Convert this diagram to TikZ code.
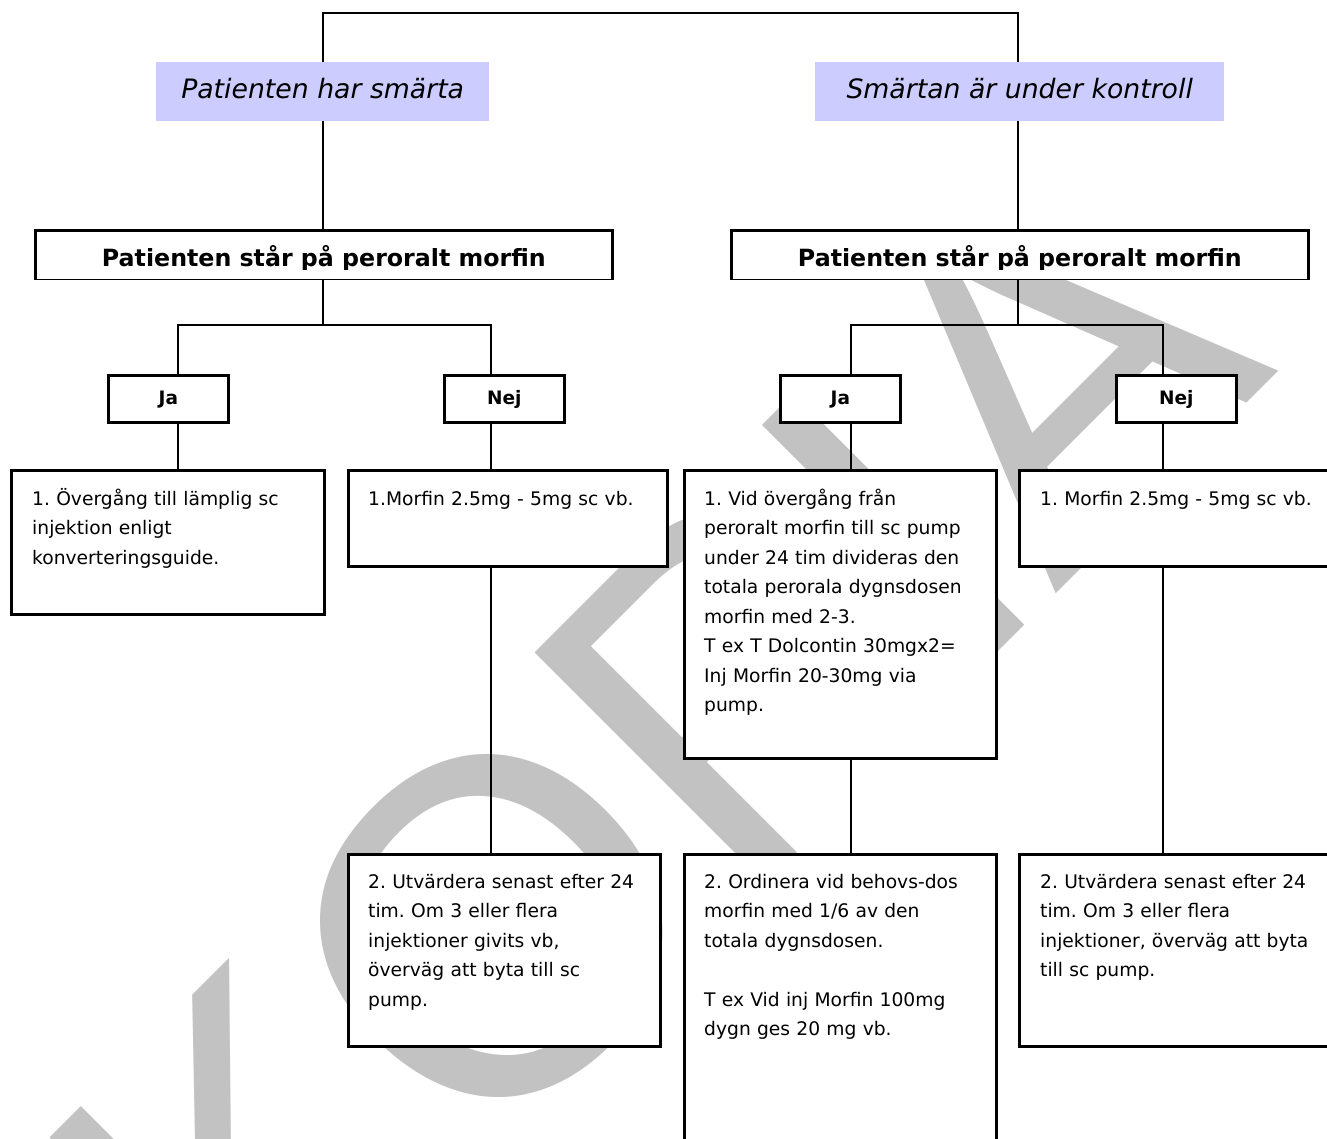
\documentclass[tikz,border=0pt]{standalone}
\usepackage{fontspec}
\setmainfont{DejaVu Sans}[ItalicFont={DejaVu Sans Oblique},BoldFont={DejaVu Sans Bold},BoldItalicFont={DejaVu Sans Bold Oblique}]
\newfontfamily\wmfont{Liberation Sans}
\usetikzlibrary{calc}
\definecolor{hdrfill}{RGB}{204,204,255}
\definecolor{wmgray}{RGB}{194,194,194}
\newcommand{\firstln}{\rule{0pt}{18pt}}
\frenchspacing
\begin{document}
\frenchspacing
\begin{tikzpicture}[x=1pt,y=-1pt,
  conn/.style={line width=2.6pt},
  boxst/.style={draw, line width=2.7pt, fill=white, rectangle, inner sep=0pt, anchor=north west},
  bodytxt/.style={anchor=north west, inner sep=0pt, text width=300pt, align=left, font=\fontsize{18.7}{29.5}\selectfont\frenchspacing},
  hdrst/.style={fill=hdrfill, rectangle, inner sep=0pt, anchor=north west, text height=36pt, text depth=23pt, font=\fontsize{26.7}{30}\selectfont\itshape},
  titlest/.style={boxst, minimum width=577pt, text height=35.5pt, text depth=12.5pt, font=\fontsize{23.7}{28}\selectfont\bfseries},
  jnst/.style={boxst, minimum width=120pt, text height=29pt, text depth=18pt, font=\fontsize{18.5}{22}\selectfont\bfseries},
  wmst/.style={anchor=base west, inner sep=0pt, rotate=45, text=wmgray, font=\wmfont\fontsize{475}{475}\selectfont}
]
\useasboundingbox (0,0) rectangle (1327,1139);
\clip (0,0) rectangle (1327,1139);
\fill[white] (0,0) rectangle (1327,1139);

% watermark
\node[wmst] (wmk) at (253,1397) {KOPIA};

% headers
\node[hdrst, minimum width=333pt] (h1) at (156,62) {Patienten har smärta};
\node[hdrst, minimum width=409pt] (h2) at (815,62) {Smärtan är under kontroll};

% connectors
\coordinate (topbar) at (0,13);
\coordinate (lja) at (178,325);
\coordinate (lnej) at (491,325);
\coordinate (rja) at (851,325);
\coordinate (rnej) at (1163,325);
\coordinate (lmid) at (323,0);
\coordinate (rmid) at (1018,0);

\draw[conn] (lmid |- h1.north) -- (lmid |- topbar) -- (rmid |- topbar) -- (rmid |- h2.north);
\draw[conn] (lmid |- h1.south) -- (lmid |- 0,230);
\draw[conn] (rmid |- h2.south) -- (rmid |- 0,230);
\draw[conn] (lmid |- 0,277) -- (lmid |- lja);
\draw[conn] (rmid |- 0,277) -- (rmid |- rja);
\draw[conn] (lja |- 0,374) -- (lja) -- (lnej) -- (lnej |- 0,374);
\draw[conn] (rja |- 0,374) -- (rja) -- (rnej) -- (rnej |- 0,374);
\draw[conn] (lja |- 0,421) -- (lja |- 0,469);
\draw[conn] (lnej |- 0,421) -- (lnej |- 0,469);
\draw[conn] (lnej |- 0,565) -- (lnej |- 0,853);
\draw[conn] (rja |- 0,421) -- (rja |- 0,469);
\draw[conn] (rja |- 0,757) -- (rja |- 0,853);
\draw[conn] (rnej |- 0,421) -- (rnej |- 0,469);
\draw[conn] (rnej |- 0,565) -- (rnej |- 0,853);

% title boxes
\node[titlest] (t1) at (34,229.5) {Patienten står på peroralt morfin};
\node[titlest] (t2) at (730,229.5) {Patienten står på peroralt morfin};
\fill[white] ($(t1.south west)+(3,-10.3)$) rectangle ($(t1.south east)+(-3,-1.5)$);
\fill[white] ($(t2.south west)+(3,-10.3)$) rectangle ($(t2.south east)+(-3,-1.5)$);

% Ja / Nej
\node[jnst] (ja1) at (107,374) {Ja};
\node[jnst] (nej1) at (443,374) {Nej};
\node[jnst] (ja2) at (779,374) {Ja};
\node[jnst] (nej2) at (1115,374) {Nej};

% content boxes
\node[boxst, minimum width=313pt, minimum height=144pt] (b1) at (10,469) {};
\node[boxst, minimum width=319pt, minimum height=96pt] (b2) at (347,469) {};
\node[boxst, minimum width=312pt, minimum height=192pt] (b3) at (347,853) {};
\node[boxst, minimum width=312pt, minimum height=288pt] (b4) at (683,469) {};
\node[boxst, minimum width=312pt, minimum height=330pt] (b5) at (683,853) {};
\node[boxst, minimum width=340pt, minimum height=96pt] (b6) at (1018,469) {};
\node[boxst, minimum width=340pt, minimum height=192pt] (b7) at (1018,853) {};

\node[bodytxt] (x1) at ($(b1.north west)+(22,18)$) {\firstln 1. Övergång till lämplig sc\\injektion enligt\\konverteringsguide.};
\node[bodytxt] (x2) at ($(b2.north west)+(21,18)$) {\firstln 1.Morfin 2.5mg - 5mg sc vb.};
\node[bodytxt] (x3) at ($(b3.north west)+(21,17)$) {\firstln 2. Utvärdera senast efter 24\\tim. Om 3 eller flera\\injektioner givits vb,\\överväg att byta till sc\\pump.};
\node[bodytxt] (x4) at ($(b4.north west)+(21,18)$) {\firstln 1. Vid övergång från\\peroralt morfin till sc pump\\under 24 tim divideras den\\totala perorala dygnsdosen\\morfin med 2-3.\\T ex T Dolcontin 30mgx2=\\Inj Morfin 20-30mg via\\pump.};
\node[bodytxt] (x5) at ($(b5.north west)+(21,17)$) {\firstln 2. Ordinera vid behovs-dos\\morfin med 1/6 av den\\totala dygnsdosen.\\[29.5pt]T ex Vid inj Morfin 100mg\\dygn ges 20 mg vb.};
\node[bodytxt] (x6) at ($(b6.north west)+(22,18)$) {\firstln 1. Morfin 2.5mg - 5mg sc vb.};
\node[bodytxt] (x7) at ($(b7.north west)+(22,17)$) {\firstln 2. Utvärdera senast efter 24\\tim. Om 3 eller flera\\injektioner, överväg att byta\\till sc pump.};
\end{tikzpicture}
\end{document}
